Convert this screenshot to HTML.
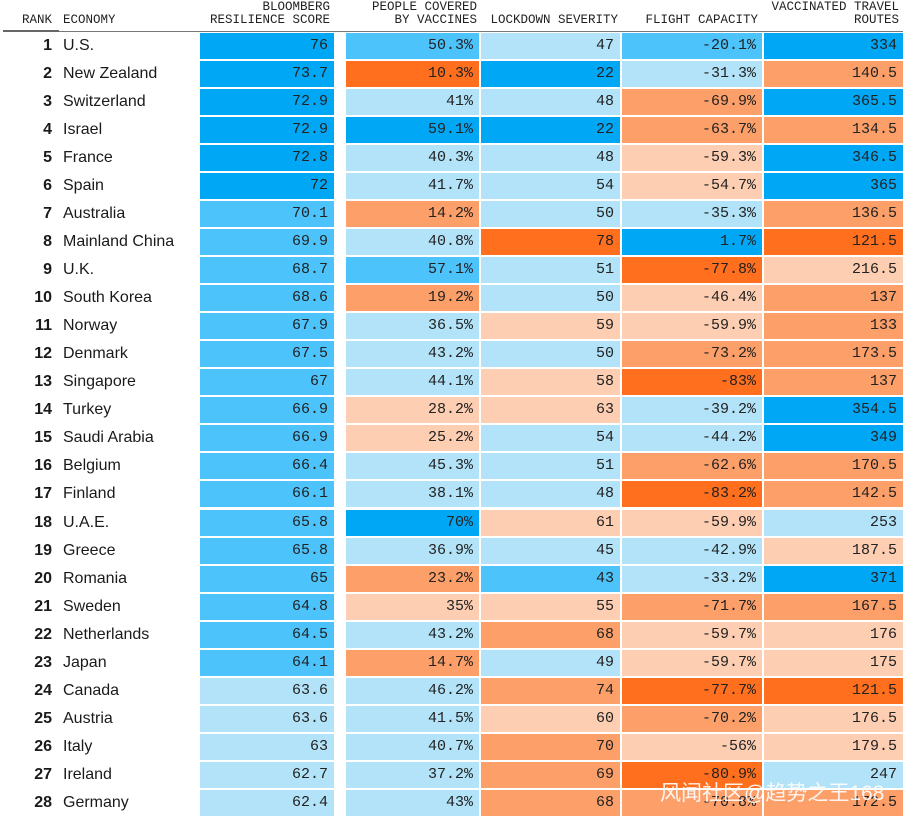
<!DOCTYPE html>
<html><head><meta charset="utf-8">
<style>
body{margin:0;width:911px;height:817px;background:#fff;position:relative;overflow:hidden;font-family:"Liberation Sans",sans-serif;color:#1a1a1a}
.h{position:absolute;font-family:"Liberation Mono",monospace;font-size:12.5px;line-height:13px;color:#222;text-align:right;white-space:nowrap}
.c{position:absolute;height:26px;font-family:"Liberation Mono",monospace;font-size:15px;line-height:26px;text-align:right;box-sizing:border-box;padding-right:6px;color:#222}
.rk{position:absolute;width:52px;text-align:right;font-weight:bold;font-size:16px;line-height:26px}
.ec{position:absolute;left:63px;font-size:16px;line-height:26px}
</style></head><body>
<div class="h" style="left:22px;top:14px">RANK</div>
<div class="h" style="left:63px;top:14px;text-align:left">ECONOMY</div>
<div class="h" style="right:581px;top:1px">BLOOMBERG<br>RESILIENCE SCORE</div>
<div class="h" style="right:434px;top:1px">PEOPLE COVERED<br>BY VACCINES</div>
<div class="h" style="right:293px;top:14px">LOCKDOWN SEVERITY</div>
<div class="h" style="right:153px;top:14px">FLIGHT CAPACITY</div>
<div class="h" style="right:12px;top:1px">VACCINATED TRAVEL<br>ROUTES</div>
<div style="position:absolute;left:3px;top:31px;width:900px;height:1px;background:#777"></div>
<div style="position:absolute;left:3px;top:30px;width:56px;height:2px;background:#666"></div>
<div id="t"></div>
<div style="position:absolute;left:660px;top:777px;color:#fff;font-size:21px;font-family:'Liberation Sans','Noto Sans CJK SC',sans-serif;opacity:.9">风闻社区@趋势之王168</div>
<script>
const economies=["U.S.","New Zealand","Switzerland","Israel","France","Spain","Australia","Mainland China","U.K.","South Korea","Norway","Denmark","Singapore","Turkey","Saudi Arabia","Belgium","Finland","U.A.E.","Greece","Romania","Sweden","Netherlands","Japan","Canada","Austria","Italy","Ireland","Germany"];
const scores=["76","73.7","72.9","72.9","72.8","72","70.1","69.9","68.7","68.6","67.9","67.5","67","66.9","66.9","66.4","66.1","65.8","65.8","65","64.8","64.5","64.1","63.6","63.6","63","62.7","62.4"];
const vaccines=["50.3%","10.3%","41%","59.1%","40.3%","41.7%","14.2%","40.8%","57.1%","19.2%","36.5%","43.2%","44.1%","28.2%","25.2%","45.3%","38.1%","70%","36.9%","23.2%","35%","43.2%","14.7%","46.2%","41.5%","40.7%","37.2%","43%"];
const lockdown=["47","22","48","22","48","54","50","78","51","50","59","50","58","63","54","51","48","61","45","43","55","68","49","74","60","70","69","68"];
const flight=["-20.1%","-31.3%","-69.9%","-63.7%","-59.3%","-54.7%","-35.3%","1.7%","-77.8%","-46.4%","-59.9%","-73.2%","-83%","-39.2%","-44.2%","-62.6%","-83.2%","-59.9%","-42.9%","-33.2%","-71.7%","-59.7%","-59.7%","-77.7%","-70.2%","-56%","-80.9%","-70.8%"];
const routes=["334","140.5","365.5","134.5","346.5","365","136.5","121.5","216.5","137","133","173.5","137","354.5","349","170.5","142.5","253","187.5","371","167.5","176","175","121.5","176.5","179.5","247","172.5"];
const scoreCls=[0,0,0,0,0,0,1,1,1,1,1,1,1,1,1,1,1,1,1,1,1,1,1,2,2,2,2,2];
const vacCls=[1,5,2,0,2,2,4,2,1,4,2,2,2,3,3,2,2,0,2,4,3,2,4,2,2,2,2,2];
const lockCls=[2,0,2,0,2,2,2,5,2,2,3,2,3,3,2,2,2,3,2,1,3,4,2,4,3,4,4,4];
const flightCls=[1,2,4,4,3,3,2,0,5,3,3,4,5,2,2,4,5,3,2,2,4,3,3,5,4,3,5,4];
const routeCls=[0,4,0,4,0,0,4,5,3,4,4,4,4,0,0,4,4,2,3,0,4,3,3,5,3,3,2,4];
const palette=["#00a7f5","#4cc3fb","#b3e3f8","#fdceb1","#fc9f69","#ff6f1d"];
const cols=[{v:scores,c:scoreCls,x:200,w:134,n:"score"},{v:vaccines,c:vacCls,x:346,w:133,n:"vaccine"},{v:lockdown,c:lockCls,x:481,w:139,n:"lockdown"},{v:flight,c:flightCls,x:622,w:140,n:"flight"},{v:routes,c:routeCls,x:764,w:139,n:"routes"}];
const t=document.getElementById('t');
const rowY=i=>Math.round(32.5+i*28.06);
economies.forEach((e,i)=>{
  const y=rowY(i);
  const r=document.createElement('div');r.className='rk';r.style.top=y+'px';r.textContent=i+1;
  
  
  t.appendChild(r);
  const n=document.createElement('div');n.className='ec';n.style.top=y+'px';n.textContent=e;
  
  
  t.appendChild(n);
  cols.forEach(col=>{
    const d=document.createElement('div');d.className='c';
    d.style.left=col.x+'px';d.style.width=col.w+'px';d.style.top=y+'px';
    d.style.background=palette[col.c[i]];d.textContent=col.v[i];
    
    
    t.appendChild(d);
  });
});
</script>
</body></html>
